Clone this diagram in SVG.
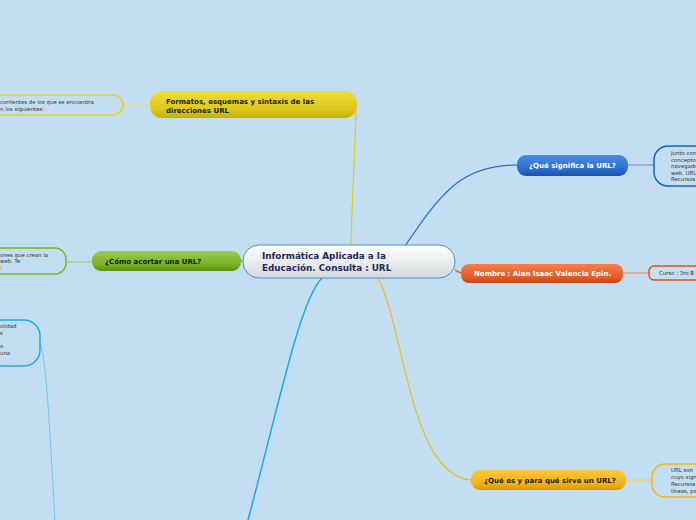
<svg xmlns="http://www.w3.org/2000/svg" width="696" height="520" viewBox="0 0 696 520">
<defs>
<linearGradient id="gC" x1="0" y1="0" x2="0" y2="1"><stop offset="0" stop-color="#ffffff"/><stop offset="1" stop-color="#d5dadf"/></linearGradient>
<linearGradient id="gY" x1="0" y1="0" x2="0" y2="1"><stop offset="0" stop-color="#eedd3a"/><stop offset="0.7" stop-color="#dcc81c"/><stop offset="1" stop-color="#c4b000"/></linearGradient>
<linearGradient id="gG" x1="0" y1="0" x2="0" y2="1"><stop offset="0" stop-color="#9ccc4c"/><stop offset="0.7" stop-color="#78b024"/><stop offset="1" stop-color="#5a900c"/></linearGradient>
<linearGradient id="gB" x1="0" y1="0" x2="0" y2="1"><stop offset="0" stop-color="#4a8ee0"/><stop offset="0.7" stop-color="#2a6ccc"/><stop offset="1" stop-color="#1852a8"/></linearGradient>
<linearGradient id="gO" x1="0" y1="0" x2="0" y2="1"><stop offset="0" stop-color="#f4804c"/><stop offset="0.7" stop-color="#e05c28"/><stop offset="1" stop-color="#c44412"/></linearGradient>
<linearGradient id="gA" x1="0" y1="0" x2="0" y2="1"><stop offset="0" stop-color="#fcc83c"/><stop offset="0.7" stop-color="#f0b018"/><stop offset="1" stop-color="#d89800"/></linearGradient>
</defs>
<style>
.t{font-family:"DejaVu Sans",Verdana,sans-serif;font-weight:bold;}
.lf{font-family:"DejaVu Sans",Verdana,sans-serif;font-size:5.4px;fill:#333;}
.leaf{fill:#c3def1;stroke-width:1.5;}
#connectors path{fill:none;}
</style>
<rect width="696" height="520" fill="#c3def1"/>
<g id="connectors">
<path d="M351,245 C352,200 355,150 356,112" stroke="#e0cc20" stroke-width="1.2"/>
<path d="M405,246 C440,195 460,165 517,165" stroke="#2a6cd0" stroke-width="1.2"/>
<path d="M455,270 L461,273" stroke="#e86038" stroke-width="1.5"/>
<path d="M378,278 C405,330 410,475 471,480" stroke="#f0b820" stroke-width="1.2"/>
<path d="M322,278 C300,300 280,400 248,520" stroke="#1aa8ec" stroke-width="1.5"/>
<path d="M243,261 L241,261" stroke="#80b830" stroke-width="1.5"/>
<path d="M123,105 L150,105" stroke="#e6dc70" stroke-width="1"/>
<path d="M66,262 L92,262" stroke="#a8d080" stroke-width="1.5"/>
<path d="M628,165 L654,165" stroke="#7aa8e4" stroke-width="1.5"/>
<path d="M623,273 L649,273" stroke="#e8a08c" stroke-width="1.5"/>
<path d="M626,480 L652,480" stroke="#f0d070" stroke-width="1.5"/>
<path d="M40,343 C47,360 50,440 55,520" stroke="#70c4f0" stroke-width="1"/>
</g>
<g id="central">
<rect x="243" y="245" width="212" height="33" rx="16" fill="url(#gC)" stroke="#4a90cc" stroke-width="1"/>
<text class="t" x="262" y="259" font-size="8.8" fill="#1c2a58">Informática Aplicada a la</text>
<text class="t" x="262" y="271" font-size="8.8" fill="#1c2a58">Educación. Consulta : URL</text>
</g>
<g id="formatos">
<rect x="150" y="91" width="207" height="27" rx="12" fill="url(#gY)"/>
<text class="t" x="166" y="104" font-size="7" fill="#222">Formatos, esquemas y sintaxis de las</text>
<text class="t" x="166" y="112.5" font-size="7" fill="#222">direcciones URL</text>
</g>
<g id="formatos-leaf">
<rect x="-20" y="95" width="143" height="20" rx="10" class="leaf" stroke="#e6d020"/>
<text class="lf" x="0" y="103.5">corrientes de los que se encuentra</text>
<text class="lf" x="0" y="110.5">n los siguientes:</text>
</g>
<g id="acortar">
<rect x="92" y="251" width="149" height="20" rx="9" fill="url(#gG)"/>
<text class="t" x="105" y="264" font-size="7" fill="#1a1a1a">¿Cómo acortar una URL?</text>
</g>
<g id="acortar-leaf">
<rect x="-20" y="248" width="86" height="26" rx="11" class="leaf" stroke="#7ab820"/>
<text class="lf" x="0" y="257">ones que crean la</text>
<text class="lf" x="0" y="263">  web. Te</text>
<text class="lf" x="0" y="269">:</text>
</g>
<g id="cyan-leaf">
<rect x="-20" y="320" width="60" height="46" rx="16" class="leaf" stroke="#22a8ec"/>
<text class="lf" x="0" y="328">olidad</text>
<text class="lf" x="0" y="335">s</text>
<text class="lf" x="0" y="348">o</text>
<text class="lf" x="0" y="354.5">una</text>
</g>
<g id="significa">
<rect x="517" y="155" width="111" height="21" rx="9" fill="url(#gB)"/>
<text class="t" x="529" y="168" font-size="7" fill="#fff">¿Qué significa la URL?</text>
</g>
<g id="significa-leaf">
<rect x="654" y="146" width="70" height="40" rx="14" class="leaf" stroke="#1a5fd0"/>
<text class="lf" x="671" y="155">Junto con</text>
<text class="lf" x="671" y="161.5">concepto</text>
<text class="lf" x="671" y="168">navegado</text>
<text class="lf" x="671" y="174.5">web. URL</text>
<text class="lf" x="671" y="181">Recursos</text>
</g>
<g id="nombre">
<rect x="461" y="264" width="162" height="19" rx="8" fill="url(#gO)"/>
<text class="t" x="474" y="276" font-size="7" fill="#fff">Nombre : Alan Isaac Valencia Epin.</text>
</g>
<g id="nombre-leaf">
<rect x="649" y="266" width="70" height="14" rx="5" class="leaf" stroke="#e05020" stroke-width="1.2"/>
<text class="lf" x="659" y="275">Curso : 3ro B</text>
</g>
<g id="sirve">
<rect x="471" y="470" width="155" height="20" rx="9" fill="url(#gA)"/>
<text class="t" x="484" y="483" font-size="7" fill="#222">¿Qué es y para qué sirve un URL?</text>
</g>
<g id="sirve-leaf">
<rect x="652" y="464" width="70" height="33" rx="13" class="leaf" stroke="#f0b820"/>
<text class="lf" x="671" y="472">URL son</text>
<text class="lf" x="671" y="479">cuyo sign</text>
<text class="lf" x="671" y="486">Recursos</text>
<text class="lf" x="671" y="493">líneas, pa</text>
</g>
</svg>
